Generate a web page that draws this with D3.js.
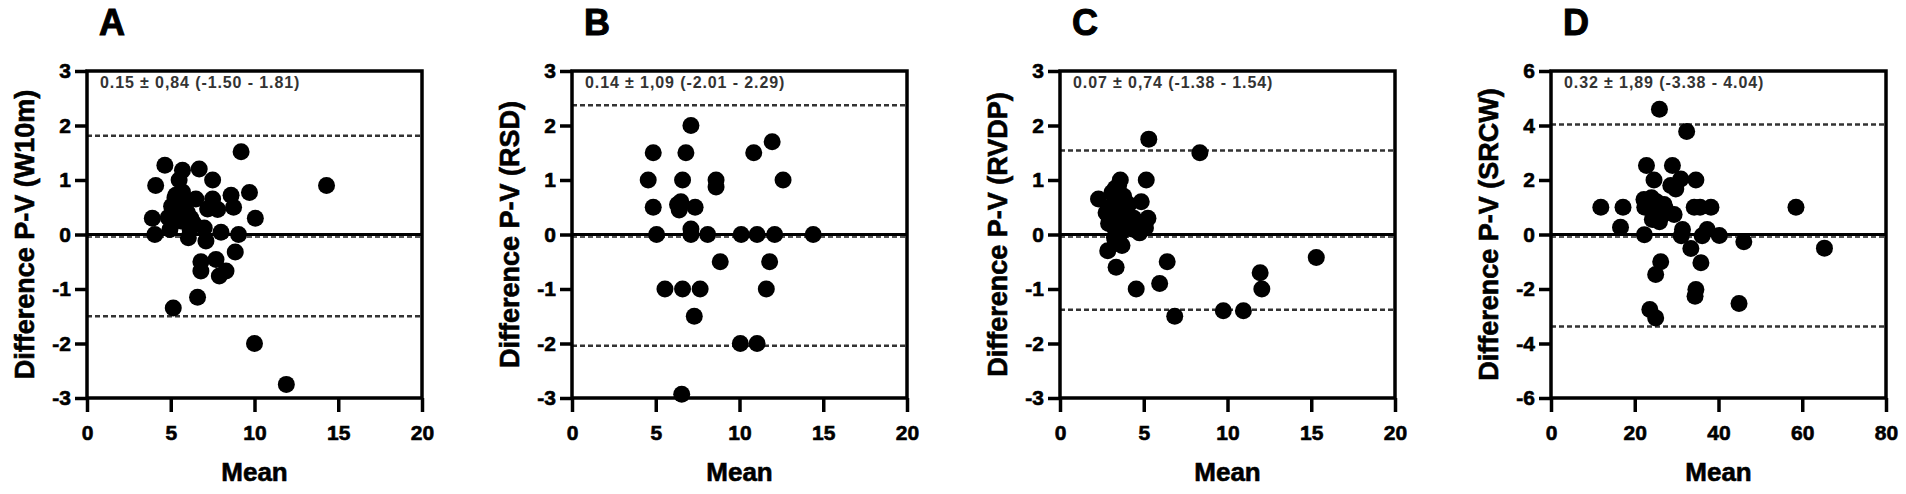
<!DOCTYPE html>
<html>
<head>
<meta charset="utf-8">
<script src="https://cdn.jsdelivr.net/npm/d3@7"></script>
<style>
  body { margin: 0; background: #fff; }
  text { font-family: "Liberation Sans", Arial, sans-serif; font-weight: bold; }
</style>
</head>
<body>
<svg id="chart"></svg>
<script>
// panel texts
const panelLetters = ["A", "B", "C", "D"];
const yLabels = ["Difference P-V (W10m)", "Difference P-V (RSD)", "Difference P-V (RVDP)", "Difference P-V (SRCW)"];
const summaries = ["0.15 \u00b1 0,84 (-1.50 - 1.81)", "0.14 \u00b1 1,09 (-2.01 - 2.29)",
                   "0.07 \u00b1 0,74 (-1.38 - 1.54)", "0.32 \u00b1 1,89 (-3.38 - 4.04)"];

// axes
const xDomains = [[0, 20], [0, 20], [0, 20], [0, 80]];
const yDomains = [[-3, 3], [-3, 3], [-3, 3], [-6, 6]];
const xTicks = [[0, 5, 10, 15, 20], [0, 5, 10, 15, 20], [0, 5, 10, 15, 20], [0, 20, 40, 60, 80]];
const yTicks = [[-3, -2, -1, 0, 1, 2, 3], [-3, -2, -1, 0, 1, 2, 3], [-3, -2, -1, 0, 1, 2, 3], [-6, -4, -2, 0, 2, 4, 6]];

// limits of agreement (lower, upper) as drawn
const limits = [[-1.50, 1.81], [-2.04, 2.37], [-1.38, 1.54], [-3.38, 4.04]];

// A: W10m
const meanA = [9.2, 14.3, 10.0, 11.9, 5.15, 6.6, 4.65, 4.1, 3.9, 4.05, 5.7, 5.5, 6.7, 7.5,
  9.7, 8.6, 8.75, 10.05, 6.5, 7.5, 7.2, 7.8, 5.25, 5.05, 5.55, 5.9, 4.85, 5.4, 6.0,
  4.95, 6.15, 6.05, 6.35, 7.0, 7.1, 8.0, 9.05, 8.85, 6.8, 6.8, 7.7, 7.9, 8.3, 5.3, 5.7,
  5.2, 5.6, 6.2];
const diffA = [1.52, 0.9, -2.0, -2.75, -1.35, -1.15, 1.27, 0.9, 0.3, 0.0, 1.18, 1.0, 1.2, 1.0,
  0.77, 0.72, 0.5, 0.3, 0.65, 0.65, 0.47, 0.46, 0.67, 0.52, 0.49, 0.61, 0.31, 0.34, 0.4,
  0.09, 0.1, -0.06, 0.21, 0.12, -0.12, 0.04, 0.0, -0.32, -0.5, -0.67, -0.46, -0.76, -0.67, 0.72, 0.78,
  0.4, 0.25, 0.3];

// B: RSD
const meanB = [7.1, 4.85, 6.8, 4.55, 6.6, 8.6, 8.6, 4.85, 6.3, 6.4, 6.5, 7.35, 5.05, 7.1, 7.1,
  8.1, 10.1, 11.05, 12.1, 14.4, 8.85, 11.8, 5.55, 6.6, 7.65, 11.6, 7.3, 10.05, 11.05, 6.55,
  10.85, 11.95, 12.6];
const diffB = [2.0, 1.5, 1.5, 1.0, 1.0, 1.0, 0.87, 0.5, 0.55, 0.45, 0.6, 0.5, 0.0, 0.1, 0.0,
  0.0, 0.0, 0.0, 0.0, 0.0, -0.5, -0.5, -1.0, -1.0, -1.0, -1.0, -1.5, -2.0, -2.0, -2.93,
  1.5, 1.7, 1.0];

// C: RVDP
const meanC = [5.3, 8.35, 5.15, 3.6, 2.3, 3.1, 3.3, 4.85, 5.25, 5.1, 4.75, 2.95, 2.9, 3.4, 3.6,
  3.25, 3.3, 2.85, 3.35, 4.55, 5.95, 6.4, 6.85, 9.75, 10.95, 11.95, 12.05, 15.3, 3.2, 3.5,
  3.7, 2.75, 3.2, 3.6, 3.4, 4.6, 4.0, 3.9, 4.3,
  3.5, 3.4, 3.0, 3.8, 4.1, 3.5, 3.7, 3.1, 4.4, 3.3];
const diffC = [1.75, 1.5, 1.0, 1.0, 0.65, 0.77, 0.85, 0.6, 0.3, 0.12, 0.03, 0.28, 0.2, 0.4, 0.2,
  -0.05, -0.12, -0.3, -0.6, -1.0, -0.9, -0.5, -1.5, -1.4, -1.4, -0.7, -1.0, -0.42, 0.55, 0.65,
  0.45, 0.4, 0.15, 0.02, 0.3, 0.08, 0.5, 0.25, 0.1,
  0.9, 0.75, 0.5, 0.7, 0.55, 0.1, -0.2, 0.35, 0.3, 0.6];

// D: SRCW
const meanD = [25.9, 32.4, 11.9, 17.2, 16.6, 58.5, 65.3, 46.05, 44.9, 22.8, 29.0, 24.6, 31.0,
  34.6, 28.6, 29.8, 22.2, 22.4, 25.2, 25.9, 24.6, 24.2, 25.9, 29.4, 34.2, 35.6, 38.2, 22.3,
  31.4, 31.1, 37.3, 36.1, 40.2, 33.4, 35.8, 26.2, 25.0, 34.6, 34.4, 23.6, 25.0, 27.3,
  24.0, 27.0, 26.5];
const diffD = [4.6, 3.78, 1.0, 1.0, 0.27, 1.0, -0.5, -0.27, -2.53, 2.53, 2.53, 2.0, 2.04, 2.0,
  1.8, 1.67, 1.28, 1.0, 1.2, 1.0, 0.78, 0.55, 0.47, 0.73, 1.0, 1.0, 1.0, -0.01, 0.18, -0.05,
  0.18, -0.05, -0.04, -0.51, -1.04, -1.0, -1.47, -2.02, -2.27, -2.75, -3.06, 0.95,
  1.35, 1.1, 0.7];

const means = [meanA, meanB, meanC, meanD];
const diffs = [diffA, diffB, diffC, diffD];

const W = 1906, H = 494;
const lefts = [87, 572, 1060, 1551];
const plotW = 335, plotTop = 71, plotH = 327;

const svg = d3.select('#chart')
  .attr('width', W)
  .attr('height', H)
  .style('background', '#fff');

panelLetters.forEach((letter, i) => {
  const x = d3.scaleLinear().domain(xDomains[i]).range([0, plotW]);
  const y = d3.scaleLinear().domain(yDomains[i]).range([plotH, 0]);

  const g = svg.append('g')
    .attr('transform', `translate(${lefts[i]},${plotTop})`);

  // zero line + bias line just under it
  g.append('line')
    .attr('x1', 0).attr('x2', plotW)
    .attr('y1', y(0)).attr('y2', y(0))
    .attr('stroke', '#000').attr('stroke-width', 3);
  g.append('line')
    .attr('x1', 0).attr('x2', plotW)
    .attr('y1', y(0) + 2.5).attr('y2', y(0) + 2.5)
    .attr('stroke', '#555').attr('stroke-width', 2)
    .attr('stroke-dasharray', '5,3');

  // limits of agreement
  g.selectAll('.loa')
    .data(limits[i])
    .enter()
    .append('line')
    .attr('class', 'loa')
    .attr('x1', 0).attr('x2', plotW)
    .attr('y1', d => y(d)).attr('y2', d => y(d))
    .attr('stroke', '#333').attr('stroke-width', 2.5)
    .attr('stroke-dasharray', '5,3');

  // points
  const pts = means[i].map((m, k) => ({ m: m, d: diffs[i][k] }));
  g.selectAll('.dot')
    .data(pts)
    .enter()
    .append('circle')
    .attr('class', 'dot')
    .attr('cx', d => x(d.m))
    .attr('cy', d => y(d.d))
    .attr('r', 8.5)
    .attr('fill', '#000');

  // frame
  g.append('rect')
    .attr('width', plotW).attr('height', plotH)
    .attr('fill', 'none')
    .attr('stroke', '#000').attr('stroke-width', 3.5);

  const yAxis = d3.axisLeft(y)
    .tickValues(yTicks[i])
    .tickSize(12)
    .tickPadding(4)
    .tickFormat(d => String(d));
  const xAxis = d3.axisBottom(x)
    .tickValues(xTicks[i])
    .tickSize(14)
    .tickPadding(13)
    .tickFormat(d => String(d));

  const ya = g.append('g').call(yAxis);
  const xa = g.append('g').attr('transform', `translate(0,${plotH})`).call(xAxis);
  [ya, xa].forEach(a => {
    a.select('.domain').remove();
    a.selectAll('line').attr('stroke', '#000').attr('stroke-width', 3.5);
    a.selectAll('text')
      .attr('fill', '#000')
      .attr('stroke', '#000')
      .attr('stroke-width', 0.6)
      .style('font-size', '21px')
      .style('font-family', '"Liberation Sans", Arial, sans-serif')
      .style('font-weight', 'bold');
  });

  // summary text
  g.append('text')
    .attr('x', 13)
    .attr('y', 17)
    .attr('fill', '#333')
    .style('font-size', '16px')
    .style('letter-spacing', '0.9px')
    .text(summaries[i]);

  // panel letter
  g.append('text')
    .attr('x', 12)
    .attr('y', 35 - plotTop)
    .attr('stroke', '#000')
    .attr('stroke-width', 1)
    .style('font-size', '36px')
    .text(letter);

  // axis titles
  g.append('text')
    .attr('transform', `translate(-62,${plotH / 2}) rotate(-90)`)
    .attr('text-anchor', 'middle')
    .attr('dy', '0.35em')
    .attr('stroke', '#000')
    .attr('stroke-width', 0.6)
    .style('font-size', '27px')
    .text(yLabels[i]);

  g.append('text')
    .attr('x', plotW / 2)
    .attr('y', 481 - plotTop)
    .attr('text-anchor', 'middle')
    .attr('stroke', '#000')
    .attr('stroke-width', 0.6)
    .style('font-size', '26px')
    .text('Mean');
});
</script>
</body>
</html>
